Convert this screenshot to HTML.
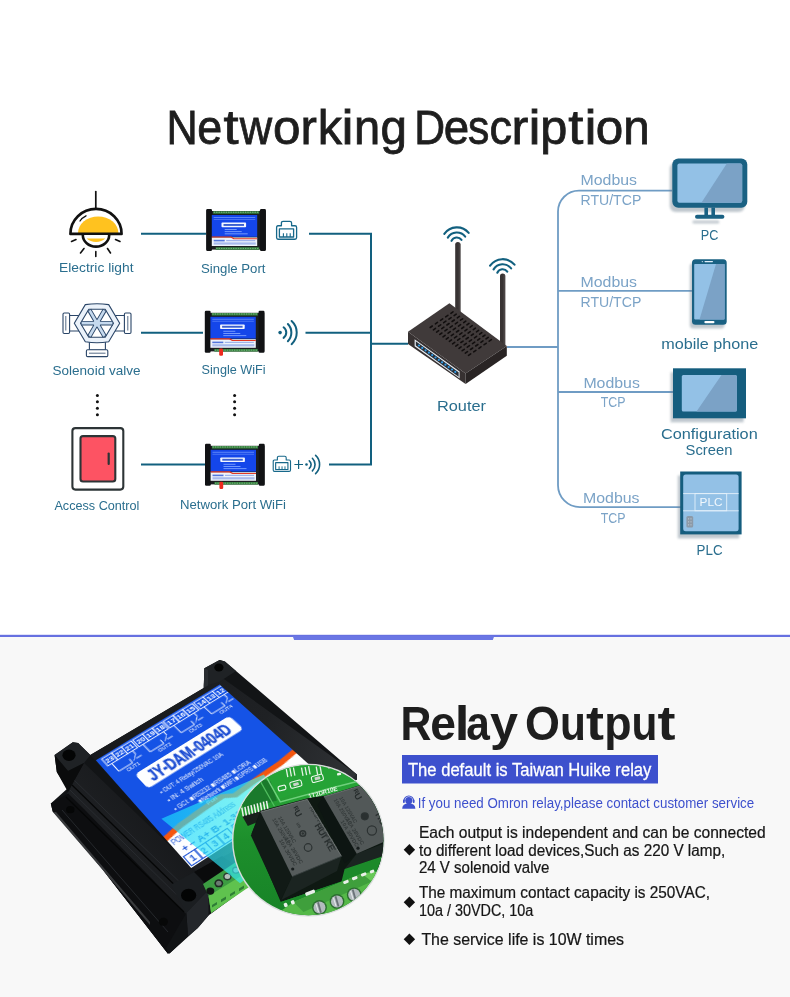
<!DOCTYPE html>
<html><head><meta charset="utf-8">
<style>
html,body{margin:0;padding:0;background:#fff;}
body{width:790px;height:997px;overflow:hidden;position:relative;font-family:"Liberation Sans",sans-serif;}
svg{position:absolute;left:0;top:0;display:block;will-change:transform}
text{font-family:"Liberation Sans",sans-serif;}
</style></head><body>
<svg width="790" height="997" viewBox="0 0 790 997">
<defs>
<g id="mod">
<rect x="0.3" y="2" width="59.2" height="38.6" fill="#1b1d20"/>
<rect x="0" y="0" width="5.8" height="42" rx="1.2" fill="#111214"/>
<rect x="53.8" y="0" width="5.9" height="42" rx="1.2" fill="#111214"/>
<rect x="7" y="2.2" width="46" height="2.6" fill="#347d3d"/>
<path d="M7.5 3.2 H53" stroke="#8cc791" stroke-width="0.9" stroke-dasharray="1.4 1"/>
<rect x="9.5" y="38.2" width="43.5" height="2.6" fill="#347d3d"/>
<path d="M10 39.4 H53" stroke="#7fbf85" stroke-width="0.9" stroke-dasharray="1.4 1"/>
<rect x="5.6" y="6" width="45.4" height="21.8" fill="#1446ea"/>
<rect x="5.6" y="28.4" width="45.4" height="8.6" fill="#eef3fb"/>
<path d="M5.6 27.4 H25 L28 29.2 H51 V30.2 H27.4 L24.4 28.6 H5.6 Z" fill="#e23a24"/>
<rect x="15.3" y="13.6" width="24.6" height="4.7" rx="0.8" fill="#f4f7ff"/>
<rect x="17.3" y="15" width="20.5" height="1.9" fill="#3a5fd0"/>
<g fill="#7ea2ff"><rect x="7.5" y="8" width="41.5" height="0.9" opacity="0.75"/><rect x="7.5" y="10" width="41.5" height="0.9" opacity="0.55"/><rect x="18.5" y="20" width="12" height="0.9"/><rect x="18.5" y="22.2" width="17" height="0.9"/><rect x="18.5" y="24.4" width="23" height="0.9"/></g>
<g fill="#5276dc"><rect x="7.5" y="30.8" width="11" height="1.6"/><rect x="7.5" y="33.4" width="42" height="2.2" opacity="0.45"/><rect x="20" y="31" width="29" height="1.2" opacity="0.5"/></g>
</g>
<g id="port" fill="none" stroke="#17688a" stroke-width="1.3" stroke-linejoin="round">
<path d="M2 5 H5.4 V2.4 Q5.4 0.7 7.1 0.7 H13.9 Q15.6 0.7 15.6 2.4 V5 H19 Q20.6 5 20.6 6.6 V16.4 Q20.6 18 19 18 H2 Q0.6 18 0.6 16.4 V6.6 Q0.6 5 2 5 Z"/>
<path d="M3.4 15.8 V8 H17.6 V15.8 Z"/>
<path d="M7.4 15.8 V12.2 M10.8 15.8 V12.2 M14.2 15.8 V12.2" stroke-width="1.1"/>
</g>
<filter id="sh" x="-20%" y="-20%" width="140%" height="150%"><feGaussianBlur stdDeviation="1.3"/></filter>
<!--DEFS-->
</defs>
<rect x="0" y="0" width="790" height="997" fill="#ffffff"/>
<rect x="0" y="636.5" width="790" height="361" fill="#f8f8f8"/>
<rect x="0" y="634.8" width="790" height="2.2" fill="#6670e0"/>
<polygon points="292.6,636 494.3,636 492.8,640.1 294.1,640.1" fill="#6a76e4"/>

<!-- TITLE -->
<g font-size="48.5" fill="#1e1e1e" stroke="#1e1e1e" stroke-width="0.8">
<text x="166.44" y="143.6" textLength="31.21" lengthAdjust="spacingAndGlyphs">N</text>
<text x="197.30" y="143.6" textLength="24.97" lengthAdjust="spacingAndGlyphs">e</text>
<text x="223.61" y="143.6" textLength="15.09" lengthAdjust="spacingAndGlyphs">t</text>
<text x="239.70" y="143.6" textLength="32.37" lengthAdjust="spacingAndGlyphs">w</text>
<text x="273.12" y="143.6" textLength="27.52" lengthAdjust="spacingAndGlyphs">o</text>
<text x="300.40" y="143.6" textLength="16.39" lengthAdjust="spacingAndGlyphs">r</text>
<text x="317.85" y="143.6" textLength="24.25" lengthAdjust="spacingAndGlyphs">k</text>
<text x="341.52" y="143.6" textLength="12.07" lengthAdjust="spacingAndGlyphs">i</text>
<text x="353.94" y="143.6" textLength="26.17" lengthAdjust="spacingAndGlyphs">n</text>
<text x="380.40" y="143.6" textLength="26.45" lengthAdjust="spacingAndGlyphs">g</text>
<text x="414.34" y="143.6" textLength="30.82" lengthAdjust="spacingAndGlyphs">D</text>
<text x="443.87" y="143.6" textLength="25.44" lengthAdjust="spacingAndGlyphs">e</text>
<text x="468.04" y="143.6" textLength="21.34" lengthAdjust="spacingAndGlyphs">s</text>
<text x="489.50" y="143.6" textLength="22.53" lengthAdjust="spacingAndGlyphs">c</text>
<text x="511.42" y="143.6" textLength="16.79" lengthAdjust="spacingAndGlyphs">r</text>
<text x="528.57" y="143.6" textLength="12.07" lengthAdjust="spacingAndGlyphs">i</text>
<text x="540.34" y="143.6" textLength="27.07" lengthAdjust="spacingAndGlyphs">p</text>
<text x="568.36" y="143.6" textLength="15.09" lengthAdjust="spacingAndGlyphs">t</text>
<text x="584.57" y="143.6" textLength="12.07" lengthAdjust="spacingAndGlyphs">i</text>
<text x="595.82" y="143.6" textLength="27.52" lengthAdjust="spacingAndGlyphs">o</text>
<text x="623.21" y="143.6" textLength="26.43" lengthAdjust="spacingAndGlyphs">n</text>
</g>

<g id="leftd"><!-- connector lines left -->
<g fill="none" stroke="#12607f" stroke-width="2">
<path d="M141 233.8 H206"/>
<path d="M309 233.8 H371 V464.4 H329"/>
<path d="M141 332.8 H203"/>
<path d="M305.5 332.8 H371"/>
<path d="M141 464.4 H205"/>
<path d="M371 343.8 H408"/>
</g>
<!-- lamp -->
<g fill="none" stroke="#111" stroke-width="2.6" stroke-linecap="round" stroke-linejoin="round">
<path d="M95.8 191.5 V209" stroke-width="1.7"/>
<path d="M78 233.2 A20.2 16.8 0 0 1 118.4 233.2 Z" fill="#ffc21f" stroke="none"/>
<path d="M70.4 233.9 A25.6 25 0 0 1 121.6 233.9 Z"/>
<path d="M82.8 235 A13.2 11.6 0 0 0 109.2 235 Z" fill="#fff" stroke="none"/>
<path d="M86.6 238.6 H105.4 A13.2 11.6 0 0 1 86.6 238.6 Z" fill="#ffc21f" stroke="none"/>
<path d="M82.8 235 A13.2 11.6 0 0 0 109.2 235"/>
<path d="M80 221 Q82.2 217.6 86 215.8" stroke-width="1.3"/>
<g stroke-width="1.6">
<path d="M76 239.5 L71.5 241.5"/><path d="M115.5 239.5 L120 241.5"/>
<path d="M84 248.5 L80.5 253"/><path d="M107.5 248.5 L110.5 253"/>
<path d="M95.8 251.5 V256.5"/>
</g>
</g>
<!-- solenoid valve -->
<g fill="#fff" stroke="#2b4668" stroke-width="1.1" stroke-linejoin="round">
<rect x="69" y="315.5" width="10" height="15.5"/>
<rect x="115" y="315.5" width="10" height="15.5"/>
<rect x="63" y="313" width="6.6" height="20.5" rx="1.2"/>
<rect x="124.4" y="313" width="6.6" height="20.5" rx="1.2"/>
<path d="M65.8 316 V330.5 M127.8 316 V330.5" stroke-width="0.8"/>
<rect x="89.4" y="341" width="16" height="9"/>
<rect x="86.4" y="349.8" width="21.4" height="6.8" rx="1.2"/>
<path d="M89 353.2 H105.5" stroke-width="0.8"/>
<path d="M74.3 323.2 L85.3 304.6 Q97 302.8 108.7 304.6 L119.7 323.2 L108.7 341.8 Q97 343.6 85.3 341.8 Z" fill="#ebf2fa"/>
<path d="M80.5 323.2 L88.8 309.2 H105.2 L113.5 323.2 L105.2 337.2 H88.8 Z" fill="#fff"/>
<g stroke="#2b4668" stroke-width="4.6" stroke-linecap="butt"><path d="M81 323.2 H113 M89.2 309.8 L104.8 336.6 M104.8 309.8 L89.2 336.6"/></g>
<g stroke="#c5d9ee" stroke-width="2.7"><path d="M81.6 323.2 H112.4 M89.6 310.4 L104.4 336 M104.4 310.4 L89.6 336"/></g>
<circle cx="97" cy="323.2" r="3.2" fill="#c5d9ee" stroke="none"/>
</g>
<!-- dots -->
<g fill="#111">
<circle cx="97.4" cy="395.4" r="1.5"/><circle cx="97.4" cy="401.8" r="1.5"/><circle cx="97.4" cy="408.3" r="1.5"/><circle cx="97.4" cy="414.7" r="1.5"/>
<circle cx="234.6" cy="395.4" r="1.5"/><circle cx="234.6" cy="401.8" r="1.5"/><circle cx="234.6" cy="408.3" r="1.5"/><circle cx="234.6" cy="414.7" r="1.5"/>
</g>
<!-- access control -->
<rect x="72.4" y="428.1" width="50.9" height="61.5" rx="3" fill="#fff" stroke="#2d3436" stroke-width="2.1"/>
<rect x="80.5" y="436.1" width="34.8" height="45.4" rx="2.5" fill="#fd5363" stroke="#2d3436" stroke-width="2.1"/>
<path d="M108.7 453.5 V464" stroke="#2d3436" stroke-width="2.2" stroke-linecap="round"/>
<!-- modules -->
<use href="#mod" x="206.2" y="209"/>
<use href="#mod" x="204.8" y="310.8"/>
<rect x="219.2" y="348.6" width="3.8" height="7.2" rx="1.2" fill="#ee2a1e"/>
<use href="#mod" x="205" y="443.8"/>
<rect x="219.4" y="481.8" width="3.8" height="7.2" rx="1.2" fill="#ee2a1e"/>
<!-- port icons -->
<g transform="translate(276 220.6) scale(1 1.035)"><use href="#port" x="0" y="0"/></g>
<g transform="translate(272.7 455.6) scale(0.865 0.88)"><use href="#port" x="0" y="0" stroke-width="1.15"/></g>
<!-- wifi icons -->
<g fill="none" stroke="#12607f" stroke-width="2" stroke-linecap="round">
<circle cx="280.1" cy="332.6" r="1.8" fill="#12607f" stroke="none"/>
<path d="M283.6 327.3 A6.6 6.6 0 0 1 283.6 337.9"/>
<path d="M287.9 324 A12.4 12.4 0 0 1 287.9 341.2"/>
<path d="M291.6 321 A15.7 15.7 0 0 1 291.6 344.2"/>
</g>
<g fill="none" stroke="#12607f" stroke-width="1.6" stroke-linecap="round">
<path d="M294.4 464.5 H303 M298.6 460.1 V468.9" stroke-width="1.2" stroke-linecap="butt"/>
<circle cx="306.5" cy="464.5" r="1.3" fill="#12607f" stroke="none"/>
<path d="M309.3 460.8 A4.9 4.9 0 0 1 309.3 468.4"/>
<path d="M312.4 458.3 A8.8 8.8 0 0 1 312.4 470.9"/>
<path d="M315.6 455.4 A12.4 12.4 0 0 1 315.6 473.6"/>
</g>
<!-- labels -->
<g font-size="13.5" fill="#2a6e8e">
<text x="59" y="272" textLength="74.5" lengthAdjust="spacingAndGlyphs">Electric light</text>
<text x="201" y="272.6" textLength="64.5" lengthAdjust="spacingAndGlyphs">Single Port</text>
<text x="52.5" y="374.8" textLength="88" lengthAdjust="spacingAndGlyphs">Solenoid valve</text>
<text x="201.6" y="374.2" textLength="64" lengthAdjust="spacingAndGlyphs">Single WiFi</text>
<text x="54.4" y="510" textLength="85" lengthAdjust="spacingAndGlyphs">Access Control</text>
<text x="180" y="509.2" textLength="106" lengthAdjust="spacingAndGlyphs">Network Port WiFi</text>
</g>
</g>
<g id="routerg"><!-- router -->
<g>
<!-- antennas -->
<path d="M455.2 312 V244.5 A2.6 2.6 0 0 1 460.4 244.5 V312 Z" fill="#383333"/>
<path d="M500 345 V276 A2.6 2.6 0 0 1 505.2 276 V345 Z" fill="#383333"/>
<path d="M458.6 312 V243 A1.3 1.3 0 0 1 460.4 244.5 V312 Z" fill="#474141"/>
<path d="M503.4 345 V274.5 A1.3 1.3 0 0 1 505.2 276 V345 Z" fill="#4a4444"/>
<!-- body -->
<path d="M408 331.7 L449.4 303.3 L506.8 345.9 L465.6 373.6 Z" fill="#403a3a"/>
<path d="M408 331.7 L465.6 373.6 V384 L408 343.9 Z" fill="#373131"/>
<path d="M465.6 373.6 L506.8 345.9 V355.8 L465.6 384 Z" fill="#292424"/>
<!-- port strip -->
<path d="M414.6 339.2 L459.6 371.6 V378.4 L414.6 346.2 Z" fill="#e8eef4"/>
<path d="M415.8 341.2 L458.6 372.2 V376.8 L415.8 345.6 Z" fill="#2a3038"/>
<g fill="#2f9be8">
<circle cx="419" cy="345.5" r="1.1"/><circle cx="422.3" cy="347.9" r="1.1"/><circle cx="425.6" cy="350.3" r="1.1"/><circle cx="428.9" cy="352.7" r="1.1"/><circle cx="432.2" cy="355.1" r="1.1"/><circle cx="435.5" cy="357.5" r="1.1"/><circle cx="438.8" cy="359.9" r="1.1"/><circle cx="442.1" cy="362.3" r="1.1"/><circle cx="445.4" cy="364.7" r="1.1"/><circle cx="448.7" cy="367.1" r="1.1"/><circle cx="452" cy="369.5" r="1.1"/><circle cx="455.3" cy="371.9" r="1.1"/>
</g>
<!-- vents -->
<g stroke="#110e0e" stroke-width="1.6" stroke-linecap="round" id="vents">
<path d="M430.2 327.5 L432.3 326.0"/>
<path d="M433.4 329.8 L435.5 328.3"/>
<path d="M436.6 332.1 L438.7 330.6"/>
<path d="M439.8 334.4 L441.9 333.0"/>
<path d="M443.0 336.8 L445.1 335.3"/>
<path d="M446.2 339.1 L448.3 337.6"/>
<path d="M449.4 341.4 L451.5 339.9"/>
<path d="M452.6 343.8 L454.7 342.3"/>
<path d="M455.8 346.1 L457.9 344.6"/>
<path d="M459.0 348.4 L461.1 346.9"/>
<path d="M462.2 350.7 L464.3 349.3"/>
<path d="M465.3 353.1 L467.5 351.6"/>
<path d="M468.5 355.4 L470.7 353.9"/>
<path d="M435.4 323.9 L437.5 322.4"/>
<path d="M438.6 326.2 L440.7 324.8"/>
<path d="M441.8 328.6 L443.9 327.1"/>
<path d="M444.9 330.9 L447.1 329.4"/>
<path d="M448.1 333.2 L450.3 331.7"/>
<path d="M451.3 335.6 L453.5 334.1"/>
<path d="M454.5 337.9 L456.7 336.4"/>
<path d="M457.7 340.2 L459.9 338.7"/>
<path d="M460.9 342.5 L463.1 341.1"/>
<path d="M464.1 344.9 L466.3 343.4"/>
<path d="M467.3 347.2 L469.5 345.7"/>
<path d="M470.5 349.5 L472.7 348.0"/>
<path d="M473.7 351.8 L475.9 350.4"/>
<path d="M440.5 320.4 L442.7 318.9"/>
<path d="M443.7 322.7 L445.9 321.2"/>
<path d="M446.9 325.0 L449.1 323.5"/>
<path d="M450.1 327.3 L452.3 325.9"/>
<path d="M453.3 329.7 L455.5 328.2"/>
<path d="M456.5 332.0 L458.7 330.5"/>
<path d="M459.7 334.3 L461.9 332.8"/>
<path d="M462.9 336.7 L465.1 335.2"/>
<path d="M466.1 339.0 L468.3 337.5"/>
<path d="M469.3 341.3 L471.5 339.8"/>
<path d="M472.5 343.6 L474.7 342.2"/>
<path d="M475.7 346.0 L477.9 344.5"/>
<path d="M478.9 348.3 L481.0 346.8"/>
<path d="M445.7 316.8 L447.9 315.3"/>
<path d="M448.9 319.1 L451.1 317.7"/>
<path d="M452.1 321.5 L454.3 320.0"/>
<path d="M455.3 323.8 L457.5 322.3"/>
<path d="M458.5 326.1 L460.6 324.6"/>
<path d="M461.7 328.5 L463.8 327.0"/>
<path d="M464.9 330.8 L467.0 329.3"/>
<path d="M468.1 333.1 L470.2 331.6"/>
<path d="M471.3 335.4 L473.4 334.0"/>
<path d="M474.5 337.8 L476.6 336.3"/>
<path d="M477.7 340.1 L479.8 338.6"/>
<path d="M480.9 342.4 L483.0 340.9"/>
<path d="M484.1 344.7 L486.2 343.3"/>
<path d="M450.9 313.3 L453.0 311.8"/>
<path d="M454.1 315.6 L456.2 314.1"/>
<path d="M457.3 317.9 L459.4 316.4"/>
<path d="M460.5 320.2 L462.6 318.8"/>
<path d="M463.7 322.6 L465.8 321.1"/>
<path d="M466.9 324.9 L469.0 323.4"/>
<path d="M470.1 327.2 L472.2 325.7"/>
<path d="M473.3 329.6 L475.4 328.1"/>
<path d="M476.5 331.9 L478.6 330.4"/>
<path d="M479.7 334.2 L481.8 332.7"/>
<path d="M482.9 336.5 L485.0 335.1"/>
<path d="M486.0 338.9 L488.2 337.4"/>
<path d="M489.2 341.2 L491.4 339.7"/>
</g>
</g>
<!-- wifi arcs on antennas -->
<g fill="none" stroke="#12607f" stroke-width="2.1" stroke-linecap="round">
<path d="M444.3 233.9 A15.4 15.4 0 0 1 468.7 232.9"/>
<path d="M447.8 237.6 A10.6 10.6 0 0 1 465.2 236.6"/>
<path d="M451.5 240.9 A5.8 5.8 0 0 1 461.5 239.9"/>
<path d="M490.1 265.7 A15.4 15.4 0 0 1 514.5 264.7"/>
<path d="M493.6 269.4 A10.6 10.6 0 0 1 511.1 268.4"/>
<path d="M497.3 272.7 A5.8 5.8 0 0 1 507.3 271.7"/>
</g>
<text x="437" y="411" font-size="15" fill="#2a6e8e" textLength="49" lengthAdjust="spacingAndGlyphs">Router</text>
</g>
<g id="rightd"><g fill="none" stroke="#6f9cc4" stroke-width="1.8">
<path d="M507 347 H558"/>
<path d="M672 190.6 H579 A21 21 0 0 0 558 211.6 V485 A22 22 0 0 0 580 507.2 H681"/>
<path d="M558 290.8 H692"/>
<path d="M558 392 H673"/>
</g>
<g font-size="14.5" fill="#7ba3c7">
<text x="580.5" y="184.9" textLength="56.5" lengthAdjust="spacingAndGlyphs">Modbus</text>
<text x="580.5" y="205.4" textLength="60.8" lengthAdjust="spacingAndGlyphs">RTU/TCP</text>
<text x="580.5" y="286.7" textLength="56.5" lengthAdjust="spacingAndGlyphs">Modbus</text>
<text x="580.5" y="306.7" textLength="60.8" lengthAdjust="spacingAndGlyphs">RTU/TCP</text>
<text x="583.4" y="387.7" textLength="56.5" lengthAdjust="spacingAndGlyphs">Modbus</text>
<text x="600.8" y="407.3" textLength="24.8" lengthAdjust="spacingAndGlyphs">TCP</text>
<text x="583" y="502.8" textLength="56.5" lengthAdjust="spacingAndGlyphs">Modbus</text>
<text x="600.8" y="522.8" textLength="24.8" lengthAdjust="spacingAndGlyphs">TCP</text>
</g>
<!-- PC monitor -->
<g>
<g opacity="0.42" fill="#6b7d8c" transform="translate(-2.6 4.2)" filter="url(#sh)">
<rect x="672.3" y="158.5" width="75" height="49.2" rx="6"/>
<rect x="695" y="216.4" width="27" height="3" rx="1.5"/>
</g>
<rect x="672.3" y="158.5" width="75" height="49.2" rx="6" fill="#1a6183"/>
<rect x="677.4" y="163.4" width="64.8" height="39.4" rx="2" fill="#93c1e6"/>
<path d="M726.8 163.4 H740.2 A2 2 0 0 1 742.2 165.4 V200.8 A2 2 0 0 1 740.2 202.8 H701.4 Z" fill="#7ba2c6"/>
<rect x="704.4" y="207.5" width="3.6" height="8" fill="#1a6183"/>
<rect x="711.4" y="207.5" width="3.6" height="8" fill="#1a6183"/>
<rect x="695" y="214.8" width="29.4" height="4" rx="2" fill="#1a6183"/>
</g>
<text x="700.8" y="239.7" font-size="14.5" fill="#2a6e8e" textLength="17.6" lengthAdjust="spacingAndGlyphs">PC</text>
<!-- phone -->
<g>
<rect x="689.8" y="263" width="34.7" height="65.6" rx="3.5" fill="#6b7d8c" opacity="0.42" filter="url(#sh)"/>
<rect x="692" y="259.2" width="34.7" height="65.6" rx="3.5" fill="#1a6183"/>
<rect x="694.2" y="264" width="30.4" height="55.4" rx="0.8" fill="#93c1e6"/>
<path d="M716 264 H724.6 V319.4 H699.5 Z" fill="#7ba2c6"/>
<rect x="704.5" y="261" width="8.5" height="1.2" rx="0.6" fill="#dfeefa"/>
<circle cx="702.3" cy="261.6" r="0.6" fill="#dfeefa"/>
<rect x="704.3" y="320.9" width="10.2" height="2.4" rx="1.2" fill="#ffffff"/>
</g>
<text x="661.2" y="348.8" font-size="14.5" fill="#2a6e8e" textLength="97.2" lengthAdjust="spacingAndGlyphs">mobile phone</text>
<!-- config screen -->
<g>
<rect x="670.6" y="372.3" width="73" height="50" fill="#6b7d8c" opacity="0.42" filter="url(#sh)"/>
<rect x="673" y="368.3" width="73" height="50" fill="#155d7e"/>
<rect x="681.8" y="375" width="55" height="36.4" rx="1.5" fill="#93c1e6"/>
<path d="M721.5 375 H735.3 A1.5 1.5 0 0 1 736.8 376.5 V409.9 A1.5 1.5 0 0 1 735.3 411.4 H696.5 Z" fill="#7ba2c6"/>
</g>
<g font-size="14.5" fill="#2a6e8e">
<text x="660.9" y="439" textLength="96.8" lengthAdjust="spacingAndGlyphs">Configuration</text>
<text x="685.6" y="454.8" textLength="46.8" lengthAdjust="spacingAndGlyphs">Screen</text>
<text x="696.6" y="555" textLength="26" lengthAdjust="spacingAndGlyphs">PLC</text>
</g>
<!-- PLC -->
<g>
<rect x="677.8" y="475.5" width="61.4" height="62.9" fill="#6b7d8c" opacity="0.42" filter="url(#sh)"/>
<rect x="680.2" y="471.5" width="61.4" height="62.9" fill="#155d7e"/>
<rect x="683.2" y="474.6" width="55.4" height="56.6" rx="2.5" fill="#93c1e6"/>
<path d="M683.2 493.6 H738.6 M683.2 510.8 H738.6" stroke="#e3f0fa" stroke-width="0.9"/>
<rect x="695" y="493.6" width="31.7" height="17.2" fill="none" stroke="#e3f0fa" stroke-width="0.9"/>
<text x="699.5" y="506.3" font-size="10.5" fill="#f1f8fd" textLength="23" lengthAdjust="spacingAndGlyphs">PLC</text>
<rect x="686.4" y="516" width="6.8" height="11.6" rx="1.6" fill="#8c9aa8"/>
<g fill="#c4ced8"><circle cx="688.6" cy="518.8" r="0.6"/><circle cx="691" cy="518.8" r="0.6"/><circle cx="688.6" cy="521.8" r="0.6"/><circle cx="691" cy="521.8" r="0.6"/><circle cx="688.6" cy="524.8" r="0.6"/><circle cx="691" cy="524.8" r="0.6"/></g>
</g>
</g>
<g id="photob"><defs>
<linearGradient id="lf" x1="0" y1="0" x2="1" y2="0" gradientTransform="rotate(-46)">
<stop offset="0" stop-color="#1d1f22"/><stop offset="1" stop-color="#0b0c0d"/></linearGradient>
<linearGradient id="topf" x1="0" y1="0.3" x2="1" y2="0.55"><stop offset="0" stop-color="#17191c"/><stop offset="0.6" stop-color="#1f2124"/><stop offset="1" stop-color="#303336"/></linearGradient>
</defs>
<!-- soft shadow -->

<!-- silhouette -->
<polygon points="54.6,755.1 72.8,742.2 78.1,742.9 90.3,755.1 203.7,688 204.4,668.2 219.6,659.9 224.9,661.4 357,774.5 357,779.5 346,785 300,850 246,888 208.5,915.6 197.8,928 169.5,953.6 167.8,953.6 103,870 52.7,811.6 50.8,803.4 67.5,788.5 56.8,772" fill="#121416"/>
<!-- light reflection lower-left -->

<!-- left long face -->
<polygon points="84,763 196,871 186.3,912.9 170,952 167.8,953.6 103,870 56,812 68,792" fill="url(#lf)"/>
<polygon points="50.8,803.4 68.2,793.6 84,809 190,918 186,927 170,952 167.8,953.6 103,870 52.7,811.6" fill="#0d0e10"/>
<polygon points="53,812.4 56,812 150,922 150,925" fill="#8a8d90" opacity="0.35"/>
<g stroke="#2b2f33" stroke-width="0.9" fill="none" opacity="0.9">
<path d="M70 790 L186 904"/><path d="M74 780 L190 892"/><path d="M62 810 L168 932"/>
</g>
<g stroke="#050606" stroke-width="1.3" fill="none">
<path d="M72 785 L188 898"/><path d="M66 797 L184 912"/>
</g>
<!-- top face -->
<polygon points="90.3,755.1 203.7,688 219.6,676 357,774.5 330,800 196,871" fill="url(#topf)"/>
<!-- ears -->
<polygon points="54.6,755.1 72.8,742.2 78.1,742.9 90.3,755.1 84,763 68,771" fill="#1f2225"/>
<polygon points="54.6,755.1 68,771 84,763 68,792 56.8,772" fill="#0a0b0c"/>
<ellipse cx="69" cy="755.3" rx="6.6" ry="5.7" fill="#040505"/>
<ellipse cx="70.3" cy="809.7" rx="4.2" ry="3.6" fill="#050606"/>
<polygon points="204.4,668.2 219.6,659.9 224.9,661.4 236,671 219,682 203.9,686" fill="#1f2225"/>
<polygon points="204.4,668.2 203.7,688 208,685.6 208,670" fill="#2a2d31"/>
<ellipse cx="218.9" cy="667.5" rx="4.6" ry="4" fill="#040505"/>
<!-- front-right ear -->
<polygon points="170.9,884.8 196,870.9 208.5,889.9 186.3,912.9" fill="#1b1e21"/>
<polygon points="186.3,912.9 208.5,889.9 208.5,915.6 197.8,928 188,936" fill="#24272b"/>
<polygon points="186.3,912.9 188,936 169.5,953.6 166,948" fill="#111315"/>
<ellipse cx="188.6" cy="895.2" rx="7.6" ry="6.4" fill="#030404"/>
<ellipse cx="163.3" cy="921.8" rx="4.6" ry="4" fill="#070808"/>
<!-- right side face -->
<polygon points="357,774.5 357,779.5 346,785 330,800" fill="#25282c"/>
<!-- terminal recess + block -->
<polygon points="194,872 222,856 236,866 208,886" fill="#0a0b0c"/>
<polygon points="203,884 236,862 262,872 246,888 211.1,912.9 208.5,896" fill="#3c9c42"/>
<polygon points="208.5,896 246,873 262,880 246,889 211.1,912.9" fill="#5fc24e"/>
<g fill="#2e7d36"><polygon points="212,905 217,902 217,904.6 212,907.6"/><polygon points="221,899.6 226,896.6 226,899.2 221,902.2"/><polygon points="230,894 235,891 235,893.6 230,896.6"/><polygon points="239,888.6 244,885.6 244,888.2 239,891.2"/></g>
<ellipse cx="210.3" cy="891.1" rx="4" ry="3.6" fill="#101512"/>
<ellipse cx="218.8" cy="883.3" rx="4.4" ry="4" fill="#1e2a22"/><ellipse cx="218.8" cy="883.3" rx="2.8" ry="2.5" fill="#6b7a72"/>
<ellipse cx="227.4" cy="876.6" rx="4.2" ry="3.8" fill="#2a3a30"/><ellipse cx="227.4" cy="876.6" rx="2.8" ry="2.5" fill="#b5c2bb"/>
<ellipse cx="236" cy="870.2" rx="4" ry="3.6" fill="#2a3a30"/><ellipse cx="236" cy="870.2" rx="2.6" ry="2.3" fill="#a5b2ab"/>
</g>
<g id="relayt"><g font-size="48.2" font-weight="bold" fill="#1e1e1e">
<text x="400.42" y="740.4" textLength="30.93" lengthAdjust="spacingAndGlyphs">R</text>
<text x="430.15" y="740.4" textLength="25.72" lengthAdjust="spacingAndGlyphs">e</text>
<text x="454.70" y="740.4" textLength="14.68" lengthAdjust="spacingAndGlyphs">l</text>
<text x="466.28" y="740.4" textLength="23.59" lengthAdjust="spacingAndGlyphs">a</text>
<text x="489.90" y="740.4" textLength="28.01" lengthAdjust="spacingAndGlyphs">y</text>
<text x="525.00" y="740.4" textLength="34.92" lengthAdjust="spacingAndGlyphs">O</text>
<text x="559.97" y="740.4" textLength="25.91" lengthAdjust="spacingAndGlyphs">u</text>
<text x="586.14" y="740.4" textLength="17.98" lengthAdjust="spacingAndGlyphs">t</text>
<text x="604.19" y="740.4" textLength="27.34" lengthAdjust="spacingAndGlyphs">p</text>
<text x="631.57" y="740.4" textLength="25.91" lengthAdjust="spacingAndGlyphs">u</text>
<text x="657.49" y="740.4" textLength="17.98" lengthAdjust="spacingAndGlyphs">t</text>
</g>
<rect x="402" y="755" width="256" height="28.5" fill="#3d50cd"/>
<text x="407.9" y="775.5" font-size="18" fill="#ffffff" stroke="#ffffff" stroke-width="0.3" textLength="243.5" lengthAdjust="spacingAndGlyphs">The default is Taiwan Huike relay</text>
<!-- service icon -->
<g fill="#3d50cd">
<circle cx="408.8" cy="800.6" r="3.6"/>
<path d="M402.2 808.8 Q402.2 803.6 408.8 803.6 Q415.4 803.6 415.4 808.8 Z"/>
<path d="M404 800.8 A4.8 4.8 0 0 1 413.6 800.8" fill="none" stroke="#3d50cd" stroke-width="1.1"/>
<rect x="403" y="799.6" width="1.8" height="3.4" rx="0.8"/><rect x="412.8" y="799.6" width="1.8" height="3.4" rx="0.8"/>
</g>
<text x="417.7" y="807.8" font-size="14" fill="#3d50cd" textLength="336.5" lengthAdjust="spacingAndGlyphs">If you need Omron relay,please contact customer service</text>
<g font-size="15.8" fill="#161616" stroke="#161616" stroke-width="0.22">
<text x="418.9" y="837.8" textLength="346.8" lengthAdjust="spacingAndGlyphs">Each output is independent and can be connected</text>
<text x="418.9" y="855.6" textLength="306.3" lengthAdjust="spacingAndGlyphs">to different load devices,Such as 220 V lamp,</text>
<text x="418.9" y="873.4" textLength="130.6" lengthAdjust="spacingAndGlyphs">24 V solenoid valve</text>
<text x="418.9" y="897.9" textLength="291.1" lengthAdjust="spacingAndGlyphs">The maximum contact capacity is 250VAC,</text>
<text x="418.9" y="916.1" textLength="114.4" lengthAdjust="spacingAndGlyphs">10a / 30VDC, 10a</text>
<text x="421.4" y="945.3" textLength="202.6" lengthAdjust="spacingAndGlyphs">The service life is 10W times</text>
</g>
<g fill="#111">
<path d="M409.4 844.1 L415.1 849.8 L409.4 855.5 L403.7 849.8 Z"/>
<path d="M409.4 896.5 L415.1 902.2 L409.4 907.9 L403.7 902.2 Z"/>
<path d="M409.4 933.6 L415.1 939.3 L409.4 945.0 L403.7 939.3 Z"/>
</g>
</g>
</svg>
<svg id="label" width="144" height="144" viewBox="0 0 144 144" style="transform-origin:0 0;transform:matrix3d(0.904476,-0.383316,0,0.000206958,0.517608,0.0939884,0,-0.000754174,0,0,1,0,95.9,760.2,0,1);overflow:hidden">
<rect x="0" y="0" width="144" height="144" fill="#1553e6"/>
<path d="M0 144 L0.0 107.6 L18.0 104.3 L45.0 102.8 L65.0 102.4 L74.0 108.4 L98.0 106.7 L126.0 105.8 L144.0 103.4 L144 144 Z" fill="#fdfeff"/>
<path d="M0.0 105.6 L18.0 102.3 L45.0 100.8 L65.0 100.4 L74.0 106.4 L98.0 104.7 L126.0 103.8 L144.0 101.4 L144.0 106.8 L126.0 109.2 L98.0 110.1 L74.0 111.8 L65.0 105.8 L45.0 106.2 L18.0 107.7 L0.0 111.0 Z" fill="#f4560f"/>
<g fill="none" stroke="#f2f6ff" stroke-width="1">
<g id="tg"><rect x="5.0" y="2.2" width="11.2" height="10.4"/><rect x="16.2" y="2.2" width="11.2" height="10.4"/><rect x="27.4" y="2.2" width="11.2" height="10.4"/>
<path d="M9.5 12.6 V24 H25.0 V18.5 M33.0 12.6 V17.5 L27.5 22.5 M30.5 22 H36.5"/></g>
<use href="#tg" x="35.4"/><use href="#tg" x="70.8"/><use href="#tg" x="106.2"/>
</g>
<g font-size="7.6" fill="#fff" font-weight="bold">
<text x="6.3" y="10.4" textLength="8.6" lengthAdjust="spacingAndGlyphs">23</text><text x="17.5" y="10.4" textLength="8.6" lengthAdjust="spacingAndGlyphs">22</text><text x="28.7" y="10.4" textLength="8.6" lengthAdjust="spacingAndGlyphs">21</text><text x="41.7" y="10.4" textLength="8.6" lengthAdjust="spacingAndGlyphs">20</text><text x="52.9" y="10.4" textLength="8.6" lengthAdjust="spacingAndGlyphs">19</text><text x="64.1" y="10.4" textLength="8.6" lengthAdjust="spacingAndGlyphs">18</text><text x="77.1" y="10.4" textLength="8.6" lengthAdjust="spacingAndGlyphs">17</text><text x="88.3" y="10.4" textLength="8.6" lengthAdjust="spacingAndGlyphs">16</text><text x="99.5" y="10.4" textLength="8.6" lengthAdjust="spacingAndGlyphs">15</text><text x="112.5" y="10.4" textLength="8.6" lengthAdjust="spacingAndGlyphs">14</text><text x="123.7" y="10.4" textLength="8.6" lengthAdjust="spacingAndGlyphs">13</text><text x="134.9" y="10.4" textLength="8.6" lengthAdjust="spacingAndGlyphs">12</text>
</g>
<g font-size="6" fill="#fff"><text x="16.0" y="30.5" textLength="14" lengthAdjust="spacingAndGlyphs">OUT1</text><text x="51.4" y="30.5" textLength="14" lengthAdjust="spacingAndGlyphs">OUT2</text><text x="86.8" y="30.5" textLength="14" lengthAdjust="spacingAndGlyphs">OUT3</text><text x="122.2" y="30.5" textLength="14" lengthAdjust="spacingAndGlyphs">OUT4</text></g>
<rect x="19" y="36" width="107.5" height="20.5" rx="4.5" fill="#fdfeff"/>
<text x="27.5" y="52.8" font-size="18" font-weight="bold" fill="#1a4bd2" stroke="#1a4bd2" stroke-width="0.5" textLength="90" lengthAdjust="spacingAndGlyphs">JY-DAM-0404D</text>
<g font-size="8" fill="#f4f7ff">
<text x="25" y="69" textLength="69" lengthAdjust="spacingAndGlyphs">• OUT: 4 Relay/250VAC 10A</text>
<text x="25" y="80.5" textLength="38" lengthAdjust="spacingAndGlyphs">•  IN: 4 Switch</text>
<text x="24" y="91" textLength="83" lengthAdjust="spacingAndGlyphs">• GCI: ■RS232 ■RS485 ■LORA</text>
<text x="45.5" y="98" textLength="74" lengthAdjust="spacingAndGlyphs">■Network ■WiFi ■GPRS ■USB</text>
<text x="50" y="103.5" font-size="5.5">Port</text>
</g>
<g font-size="8.4" fill="#1f55d6">
<text x="2" y="118.5" textLength="66" lengthAdjust="spacingAndGlyphs">POWER RS485  Address</text>
<text x="5" y="129.5" font-size="9.5" font-weight="bold" textLength="62" lengthAdjust="spacingAndGlyphs">+   −   A+  B-   1-31</text>
</g>
<g fill="none" stroke="#1f55d6" stroke-width="1">
<rect x="1.5" y="131.5" width="11.5" height="11"/><rect x="13" y="131.5" width="11.5" height="11"/><rect x="24.5" y="131.5" width="11.5" height="11"/><rect x="36" y="131.5" width="11.5" height="11"/><rect x="52" y="131.5" width="11.5" height="11"/><rect x="63.5" y="131.5" width="11.5" height="11"/>
</g>
<g font-size="8.5" fill="#1f55d6" font-weight="bold"><text x="4.8" y="140.5">1</text><text x="16.3" y="140.5">2</text><text x="27.8" y="140.5">3</text><text x="39.3" y="140.5">4</text></g>
</svg>
<svg id="over" width="790" height="997" viewBox="0 0 790 997">
<defs>
<clipPath id="cc"><circle cx="308.4" cy="840.2" r="75"/></clipPath>
<linearGradient id="coneg" x1="160" y1="0" x2="270" y2="0" gradientUnits="userSpaceOnUse"><stop offset="0" stop-color="#18d4ff" stop-opacity="0.68"/><stop offset="1" stop-color="#44f2e8" stop-opacity="0.68"/></linearGradient>
<linearGradient id="pcbg" x1="0" y1="760" x2="0" y2="920" gradientUnits="userSpaceOnUse"><stop offset="0" stop-color="#2fae3c"/><stop offset="0.5" stop-color="#1d8f2c"/><stop offset="1" stop-color="#178226"/></linearGradient>
</defs>
<!-- cone -->
<polygon points="161.4,818.7 264,774.6 300,840 240,883.3" fill="url(#coneg)"/>
<!-- circle -->
<circle cx="308.4" cy="840.2" r="76.4" fill="#d9dcdc"/>
<g clip-path="url(#cc)">
<rect x="230" y="760" width="160" height="160" fill="url(#pcbg)"/>
<polygon points="245.3,757.6 397.2,757.6 397.2,785.4 326.3,798.1 303.5,790.5 274.4,800.6 268.1,780.4 252.9,775.3" fill="#25a336"/>
<polygon points="235.2,795.6 258.0,777.8 270.6,781.6 277.0,800.6 245.3,809.5" fill="#1a7a2c"/>
<polyline points="266.8,777.8 280.3,801.9 331.4,788.0 382.0,775.3" stroke="#6fd07c" stroke-width="1.4" fill="none"/>
<polyline points="260.5,781.6 274.4,806.2" stroke="#52bf60" stroke-width="1.2" fill="none"/>
<rect x="290.1" y="781.1" width="11.6" height="6.1" rx="1.5" fill="none" stroke="#eef8ee" stroke-width="1.1" transform="rotate(-15 295.9 784.2)"/>
<rect x="311.6" y="775.3" width="11.6" height="6.1" rx="1.5" fill="none" stroke="#eef8ee" stroke-width="1.1" transform="rotate(-15 317.5 778.4)"/>
<rect x="278.2" y="785.7" width="7.6" height="4.6" rx="1.5" fill="none" stroke="#eef8ee" stroke-width="1.1" transform="rotate(-15 282.0 788.0)"/>
<rect x="293.2" y="782.7" width="5.6" height="3.0" rx="0.8" fill="#c9d2c9" stroke="none" stroke-width="1.1" transform="rotate(-15 295.9 784.2)"/>
<rect x="314.7" y="776.8" width="5.6" height="3.0" rx="0.8" fill="#c9d2c9" stroke="none" stroke-width="1.1" transform="rotate(-15 317.5 778.4)"/>
<path d="M286.3 769.0 L287.8 777.1" stroke="#e6f2e6" stroke-width="1.3"/>
<path d="M289.9 768.2 L291.4 776.3" stroke="#e6f2e6" stroke-width="1.3"/>
<path d="M293.4 767.5 L294.9 775.6" stroke="#e6f2e6" stroke-width="1.3"/>
<path d="M301.5 767.7 L303.0 775.8" stroke="#e6f2e6" stroke-width="1.3"/>
<path d="M305.1 767.0 L306.6 775.1" stroke="#e6f2e6" stroke-width="1.3"/>
<path d="M308.6 766.2 L310.1 774.3" stroke="#e6f2e6" stroke-width="1.3"/>
<path d="M316.2 766.7 L317.7 774.8" stroke="#e6f2e6" stroke-width="1.3"/>
<path d="M320.0 765.9 L321.5 774.1" stroke="#e6f2e6" stroke-width="1.3"/>
<rect x="327.8" y="760.9" width="3.0" height="7.6" rx="1.0" fill="#15201a" stroke="#dfe9df" stroke-width="0.8" transform="rotate(-8 329.4 764.7)"/>
<rect x="349.6" y="767.0" width="4.1" height="2.5" rx="0.8" fill="#e6f2e6" stroke="none" stroke-width="1.1" transform="rotate(-15 351.6 768.2)"/>
<rect x="355.9" y="770.3" width="4.1" height="2.5" rx="0.8" fill="#e6f2e6" stroke="none" stroke-width="1.1" transform="rotate(-15 358.0 771.5)"/>
<rect x="337.0" y="772.8" width="4.1" height="2.5" rx="0.8" fill="#e6f2e6" stroke="none" stroke-width="1.1" transform="rotate(-15 339.0 774.1)"/>
<text x="309.1" y="798.6" font-size="6.2" font-weight="bold" fill="#e8f5e8" transform="rotate(-16 309.1 798.6)" textLength="30" lengthAdjust="spacingAndGlyphs">1T2DR10E</text>
<text x="326.3" y="806.2" font-size="6" font-weight="bold" fill="#e8f5e8" transform="rotate(60 326.3 806.2)">N</text>
<polygon points="242.3,816.3 268.1,808.7 271.9,816.3 247.8,825.9" fill="#18201c"/>
<path d="M243.3 816.3 L241.8 807.7" stroke="#eef3ee" stroke-width="1.5"/>
<path d="M246.4 815.5 L244.9 806.9" stroke="#eef3ee" stroke-width="1.5"/>
<path d="M249.5 814.6 L247.9 806.0" stroke="#eef3ee" stroke-width="1.5"/>
<path d="M252.6 813.7 L251.0 805.1" stroke="#eef3ee" stroke-width="1.5"/>
<path d="M255.6 812.9 L254.1 804.3" stroke="#eef3ee" stroke-width="1.5"/>
<path d="M258.7 812.0 L257.2 803.4" stroke="#eef3ee" stroke-width="1.5"/>
<path d="M261.8 811.2 L260.3 802.6" stroke="#eef3ee" stroke-width="1.5"/>
<path d="M264.9 810.3 L263.4 801.7" stroke="#eef3ee" stroke-width="1.5"/>
<path d="M268.0 809.4 L266.5 800.8" stroke="#eef3ee" stroke-width="1.5"/>
<polygon points="251.6,833.5 260.5,810.8 308.6,798.1 326.3,795.6 371.9,781.6 397.2,825.9 397.2,861.4 341.5,881.6 280.8,901.9" fill="#0e1812"/>
<polygon points="260.5,812.0 292.2,876.6 280.8,899.9 250.9,835.6" fill="#111a16"/>
<polygon points="292.2,876.6 341.5,856.3 337.0,871.0 281.3,899.9" fill="#1b2421"/>
<polygon points="260.5,812.0 307.3,799.4 341.5,856.3 292.2,876.6" fill="#565c5c"/>
<polygon points="323.8,796.8 356.7,853.8 344.6,863.2 317.5,804.9" fill="#0d1512"/>
<polygon points="356.7,853.8 397.2,838.6 397.2,851.3 344.6,869.0" fill="#1b2421"/>
<polygon points="323.8,796.8 371.9,782.4 402.3,833.5 356.7,853.8" fill="#525858"/>
<text x="314.2" y="825.4" font-size="9.2" font-weight="bold" fill="#2a3030"  transform="rotate(59 314.2 825.4)">HUI KE</text>
<text x="309.1" y="807.7" font-size="5.2" font-weight="bold" fill="#353b3b" textLength="50.0" lengthAdjust="spacingAndGlyphs" transform="rotate(59 309.1 807.7)">HK3FF-DC5V-SHG</text>
<text x="277.7" y="817.8" font-size="5.4" font-weight="bold" fill="#353b3b" textLength="30.0" lengthAdjust="spacingAndGlyphs" transform="rotate(59 277.7 817.8)">10A 125VAC</text>
<text x="271.9" y="819.6" font-size="5.4" font-weight="bold" fill="#353b3b" textLength="30.0" lengthAdjust="spacingAndGlyphs" transform="rotate(59 271.9 819.6)">10A 250VAC</text>
<text x="284.6" y="838.6" font-size="5.4" font-weight="bold" fill="#353b3b" textLength="30.0" lengthAdjust="spacingAndGlyphs" transform="rotate(59 284.6 838.6)">10A 28VDC</text>
<text x="278.7" y="840.6" font-size="5.4" font-weight="bold" fill="#353b3b" textLength="30.0" lengthAdjust="spacingAndGlyphs" transform="rotate(59 278.7 840.6)">10A 30VDC</text>
<text x="291.6" y="808.7" font-size="9.0" font-weight="bold" fill="#262c2c"  transform="rotate(59 291.6 808.7)">ᴿU</text>
<text x="295.9" y="823.4" font-size="5.0" font-weight="bold" fill="#353b3b"  transform="rotate(59 295.9 823.4)">us</text>
<text x="351.6" y="791.8" font-size="9.0" font-weight="bold" fill="#262c2c"  transform="rotate(59 351.6 791.8)">ᴿU</text>
<text x="339.0" y="798.1" font-size="5.4" font-weight="bold" fill="#353b3b" textLength="30.0" lengthAdjust="spacingAndGlyphs" transform="rotate(59 339.0 798.1)">10A 125VAC</text>
<text x="333.4" y="800.1" font-size="5.4" font-weight="bold" fill="#353b3b" textLength="30.0" lengthAdjust="spacingAndGlyphs" transform="rotate(59 333.4 800.1)">10A 250VAC</text>
<text x="345.8" y="819.6" font-size="5.4" font-weight="bold" fill="#353b3b" textLength="30.0" lengthAdjust="spacingAndGlyphs" transform="rotate(59 345.8 819.6)">10A 28VDC</text>
<text x="340.3" y="821.6" font-size="5.4" font-weight="bold" fill="#353b3b" textLength="30.0" lengthAdjust="spacingAndGlyphs" transform="rotate(59 340.3 821.6)">10A 30VDC</text>
<text x="374.9" y="814.6" font-size="9.2" font-weight="bold" fill="#2a3030"  transform="rotate(59 374.9 814.6)">HUI</text>
<circle cx="302.8" cy="833.5" r="2.8" fill="none" stroke="#2c3232" stroke-width="1.6"/>
<circle cx="308.1" cy="847.5" r="3.8" fill="none" stroke="#2c3232" stroke-width="1.2"/>
<circle cx="364.8" cy="816.3" r="3.4" fill="#2a3030" stroke="#2c3232" stroke-width="1.4"/>
<circle cx="371.9" cy="830.5" r="4.6" fill="none" stroke="#2c3232" stroke-width="1.2"/>
<circle cx="292.7" cy="869.0" r="1.6" fill="#181e1e"/>
<circle cx="358.0" cy="848.2" r="1.6" fill="#181e1e"/>
<circle cx="302.8" cy="833.5" r="1.2" fill="#2c3232"/>
<polyline points="260.5,812.0 307.3,799.4 341.5,856.3" fill="none" stroke="#7c8282" stroke-width="0.8"/>
<polyline points="323.8,796.8 371.9,782.4" fill="none" stroke="#767c7c" stroke-width="0.8"/>
<polyline points="292.2,876.6 341.5,856.3" fill="none" stroke="#3a4242" stroke-width="0.8"/>
<polygon points="280.8,901.9 341.5,881.6 344.6,869.0 397.2,851.3 397.2,869.0 361.8,874.1 293.4,903.2" fill="#1c8a2a"/>
<polygon points="279.5,912.0 293.4,901.9 361.8,873.5 397.2,869.0 397.2,927.2 283.3,927.2" fill="#55b948"/>
<polygon points="293.4,901.9 361.8,873.5 371.9,881.6 303.5,912.0" fill="#3f9f3c"/>
<polygon points="361.8,873.5 397.2,869.0 397.2,884.2 371.9,881.6" fill="#66c857"/>
<rect x="283.3" y="903.7" width="3.5" height="4.1" rx="1.2" fill="#e9efe9" transform="rotate(-22 283.3 903.7)"/>
<rect x="290.4" y="901.1" width="3.5" height="4.1" rx="1.2" fill="#e9efe9" transform="rotate(-22 290.4 901.1)"/>
<rect x="304.8" y="893.0" width="10.1" height="3.5" rx="1.2" fill="#e9efe9" transform="rotate(-22 304.8 893.0)"/>
<rect x="342.8" y="881.6" width="5.6" height="3.0" rx="1.2" fill="#e9efe9" transform="rotate(-22 342.8 881.6)"/>
<rect x="351.6" y="877.8" width="5.6" height="3.0" rx="1.2" fill="#e9efe9" transform="rotate(-22 351.6 877.8)"/>
<rect x="360.5" y="874.1" width="5.6" height="3.0" rx="1.2" fill="#e9efe9" transform="rotate(-22 360.5 874.1)"/>
<rect x="369.4" y="871.0" width="4.6" height="3.0" rx="1.2" fill="#e9efe9" transform="rotate(-22 369.4 871.0)"/>
<circle cx="319.5" cy="907.5" r="7.4" fill="#2c6e30"/>
<circle cx="319.5" cy="907.5" r="6" fill="#b4bbbf"/>
<path d="M318.0 902.3 L321.0 912.7" stroke="#6a7278" stroke-width="1.8"/>
<path d="M315.9 903.7 L318.5 912.1" stroke="#e8ecee" stroke-width="1"/>
<circle cx="337.0" cy="901.4" r="7.4" fill="#2c6e30"/>
<circle cx="337.0" cy="901.4" r="6" fill="#b4bbbf"/>
<path d="M335.5 896.2 L338.5 906.6" stroke="#6a7278" stroke-width="1.8"/>
<path d="M333.4 897.6 L336.0 906.0" stroke="#e8ecee" stroke-width="1"/>
<circle cx="354.2" cy="894.8" r="7.4" fill="#2c6e30"/>
<circle cx="354.2" cy="894.8" r="6" fill="#b4bbbf"/>
<path d="M352.7 889.6 L355.7 900.0" stroke="#6a7278" stroke-width="1.8"/>
<path d="M350.6 891.0 L353.2 899.4" stroke="#e8ecee" stroke-width="1"/>
</g>
</svg>

</body></html>
